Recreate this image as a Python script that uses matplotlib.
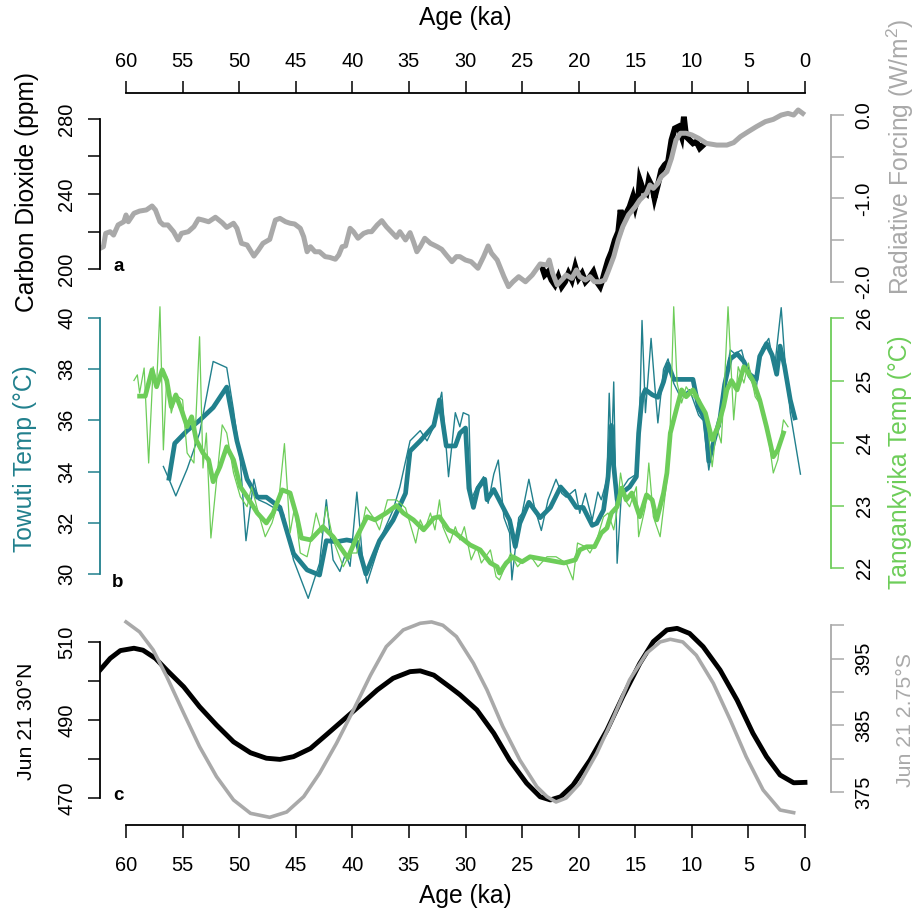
import matplotlib
matplotlib.use('Agg')
import matplotlib.pyplot as plt

plt.rcParams['font.family'] = 'Liberation Sans'
plt.rcParams['mathtext.fontset'] = 'custom'
plt.rcParams['mathtext.rm'] = 'Liberation Sans'
plt.rcParams['mathtext.it'] = 'Liberation Sans:italic'

# --- Data ---
# a: CO2 composite (grey) and high-resolution record (black)
co2_age = [62.3, 62.0, 61.8, 61.4, 61.1, 60.7, 60.2, 60.0, 59.8, 59.3, 58.8, 58.2, 57.7, 57.4, 57.0,
           56.7, 56.3, 55.8, 55.4, 55.1, 54.5, 54.0, 53.6, 53.2, 52.7, 52.1, 51.5, 51.1, 50.5, 50.2,
           49.8, 49.3, 48.7, 48.3, 47.9, 47.3, 46.8, 46.4, 45.9, 45.5, 45.1, 44.6, 44.3, 44.0, 43.7,
           43.3, 42.9, 42.4, 42.0, 41.5, 41.2, 40.9, 40.6, 40.2, 39.9, 39.5, 39.0, 38.6, 38.3, 37.8,
           37.4, 37.0, 36.5, 36.1, 35.8, 35.3, 34.9, 34.6, 34.3, 34.0, 33.6, 33.1, 32.5, 32.1, 31.7,
           31.2, 30.8, 30.5, 30.0, 29.5, 28.9, 28.4, 28.0, 27.7, 27.2, 26.6, 26.2, 25.8, 25.3, 24.7,
           24.1, 23.4, 22.8, 22.6, 22.3, 21.9, 21.5, 21.1, 20.6, 20.2, 19.9, 19.4, 19.0, 18.6, 18.1,
           17.7, 17.4, 16.9, 16.5, 16.1, 15.6, 15.0, 14.6, 14.0, 13.7, 13.4, 13.0, 12.7, 12.2, 11.8,
           11.4, 11.0, 10.5, 10.0, 9.4, 8.7, 7.8, 6.9, 6.3, 5.7, 5.0, 4.3, 3.5, 2.8, 2.1,
           1.5, 1.0, 0.6, 0.2]
co2_ppm = [211.0, 211.9, 219.0, 219.9, 218.1, 223.5, 225.2, 228.8, 225.2, 229.7, 230.9, 231.5, 233.6, 231.5, 225.2,
           223.5, 223.5, 219.9, 215.5, 219.0, 219.9, 222.6, 226.7, 226.1, 225.2, 227.6, 224.7, 222.2, 224.4, 221.7,
           213.7, 212.8, 206.9, 210.1, 213.7, 215.8, 226.1, 227.0, 225.2, 224.4, 224.0, 221.7, 217.2, 209.2, 211.9,
           209.2, 209.2, 206.6, 206.2, 205.2, 207.5, 211.9, 212.3, 221.7, 219.9, 216.4, 219.0, 219.9, 219.9, 223.5,
           225.8, 222.6, 219.4, 216.9, 219.9, 215.5, 219.4, 214.6, 209.2, 211.9, 216.4, 213.7, 211.9, 210.5, 207.5,
           203.9, 206.6, 206.6, 204.8, 203.9, 200.4, 206.6, 212.3, 208.4, 204.8, 195.9, 190.6, 193.2, 195.9, 193.2,
           196.8, 202.7, 202.1, 204.8, 197.7, 191.5, 194.1, 196.8, 195.0, 199.5, 195.9, 194.1, 195.9, 193.2, 193.2,
           194.1, 198.6, 206.6, 215.5, 222.6, 228.8, 233.2, 236.8, 240.4, 244.8, 243.0, 245.7, 249.2, 251.9, 259.0,
           268.8, 272.4, 272.4, 271.5, 269.7, 267.0, 266.1, 266.1, 267.4, 270.6, 273.3, 275.9, 278.6, 279.8, 282.1,
           283.0, 282.1, 284.8, 283.0]

co2_hr_age = [23.2, 23.0, 22.7, 22.4, 22.1, 21.8, 21.5, 21.2, 20.9, 20.6, 20.3, 20.0, 19.7, 19.4, 19.0,
              18.7, 18.4, 18.1, 17.9, 17.7, 17.4, 17.1, 16.8, 16.5, 16.3, 16.1, 15.8, 15.5, 15.2, 15.0,
              14.7, 14.6, 14.3, 14.0, 13.8, 13.5, 13.3, 13.0, 12.7, 12.4, 12.1, 11.8, 11.5, 11.2, 10.9,
              10.7, 10.5, 10.2, 9.9, 9.6, 9.3, 9.0]
co2_hr_ppm = [200.4, 196.8, 198.6, 194.1, 191.5, 195.9, 190.6, 193.2, 197.7, 194.1, 201.2, 195.0, 197.7, 193.2, 195.9,
              198.6, 193.2, 190.6, 194.1, 198.6, 204.8, 209.2, 215.5, 219.9, 231.5, 224.4, 229.7, 233.2, 238.6, 233.2,
              240.4, 247.5, 242.1, 240.4, 247.5, 243.9, 237.7, 244.8, 252.8, 255.5, 257.2, 268.8, 275.0, 275.9, 270.6,
              281.2, 270.6, 268.8, 267.0, 267.9, 264.4, 266.1]

# b: Towuti temperature, raw (thin) and smoothed (thick)
tow_raw_age = [56.7, 56.2, 55.6, 54.6, 53.5, 52.3, 51.1, 50.5, 49.9, 49.4, 48.7, 48.3, 47.6, 46.1, 45.2,
               43.9, 42.9, 42.3, 41.7, 41.1, 40.6, 40.2, 39.6, 39.1, 38.7, 37.3, 36.4, 35.8, 34.9, 34.0,
               33.4, 32.8, 32.1, 31.5, 30.9, 30.5, 30.2, 29.7, 29.5, 29.0, 28.4, 28.0, 27.5, 27.1, 26.6,
               26.1, 25.9, 25.3, 25.0, 24.4, 23.9, 23.3, 22.7, 22.0, 21.5, 21.1, 20.3, 19.9, 19.4, 18.8,
               18.3, 18.0, 17.5, 17.3, 17.1, 16.9, 16.6, 16.2, 15.6, 14.9, 14.6, 14.4, 14.1, 13.6, 13.3,
               13.0, 12.5, 12.1, 11.6, 11.0, 10.2, 9.4, 9.0, 8.5, 8.0, 7.5, 7.1, 6.6, 6.2, 5.6,
               5.0, 4.3, 3.8, 3.2, 2.7, 2.1, 1.8, 1.3, 0.4]
tow_raw = [34.2, 33.7, 33.05, 34.1, 35.5, 38.3, 38.06, 36.4, 34.45, 31.3, 33.7, 32.9, 32.76, 32.37, 30.55,
           29.05, 30.42, 32.9, 30.55, 30.1, 30.8, 30.3, 33.2, 30.6, 29.64, 31.6, 32.5, 33.4, 35.2, 35.6,
           35.2, 35.75, 37.1, 33.8, 36.3, 35.75, 36.3, 36.2, 32.9, 33.4, 33.8, 32.76, 33.9, 34.45, 32.2,
           31.6, 29.77, 32.2, 32.37, 33.7, 32.6, 31.7, 32.9, 33.7, 33.15, 33.0, 33.3, 32.37, 33.15, 32.1,
           33.2, 32.9, 33.7, 37.06, 34.6, 37.5, 30.42, 33.3, 33.7, 33.9, 36.4, 39.9, 36.3, 39.2, 37.5,
           35.9, 38.0, 38.4, 37.45, 36.9, 37.2, 36.2, 36.0, 34.06, 35.5, 35.75, 37.4, 38.75, 38.6, 38.75,
           37.7, 37.3, 38.8, 39.2, 38.0, 40.4, 38.5, 36.3, 33.9]

tow_smooth_age = [56.2, 55.7, 54.6, 53.5, 52.3, 51.1, 50.2, 49.3, 48.4, 47.6, 46.4, 45.2, 44.0, 42.9, 42.3,
                  41.4, 40.5, 39.6, 38.8, 37.6, 36.4, 35.3, 34.9, 34.0, 32.8, 32.3, 31.7, 30.9, 30.5, 30.0,
                  29.7, 29.3, 28.9, 28.3, 28.1, 27.5, 26.8, 26.1, 25.6, 25.2, 24.4, 23.4, 22.5, 21.6, 20.8,
                  20.2, 19.6, 18.8, 18.4, 17.8, 17.4, 17.1, 16.9, 16.6, 16.1, 15.5, 14.9, 14.7, 14.4, 14.1,
                  13.5, 13.0, 12.5, 12.1, 11.6, 11.0, 9.9, 9.4, 8.8, 8.5, 8.1, 7.5, 7.1, 6.6, 6.0,
                  5.4, 4.9, 4.3, 4.0, 3.4, 2.9, 2.5, 2.2, 1.8, 1.3, 0.9]
tow_smooth = [33.74, 35.1, 35.6, 36.0, 36.5, 37.3, 35.2, 33.7, 33.0, 33.0, 32.6, 30.8, 30.16, 29.96, 31.3,
              31.26, 31.33, 31.26, 30.0, 31.3, 32.1, 33.15, 34.8, 35.2, 35.8, 36.8, 35.0, 35.0, 35.5, 35.7,
              33.35, 32.6, 33.35, 33.7, 32.9, 33.3, 32.7, 32.1, 31.07, 31.98, 32.8, 32.2, 32.6, 33.4, 33.0,
              32.6, 32.6, 31.9, 31.98, 32.5, 33.8, 35.8, 34.2, 32.9, 33.2, 33.4, 33.8, 35.5, 36.9, 37.2,
              37.0, 36.9, 37.5, 38.2, 37.6, 37.6, 37.6, 36.5, 36.0, 34.4, 35.1, 36.1, 37.4, 38.4, 38.6,
              38.3, 37.8, 37.6, 38.5, 39.0, 38.55, 37.8, 38.9, 38.1, 36.8, 36.1]

# b: Tanganyika temperature, raw (thin) and smoothed (thick)
tan_raw_age = [59.3, 59.0, 58.8, 58.4, 58.0, 57.6, 57.3, 57.0, 56.7, 56.4, 56.0, 55.6, 55.0, 54.6, 54.0,
               53.5, 53.2, 52.9, 52.5, 52.0, 51.5, 51.1, 50.5, 49.9, 49.3, 48.9, 48.3, 47.7, 47.1, 46.5,
               46.0, 45.5, 45.1, 44.6, 44.0, 43.6, 43.2, 42.7, 42.3, 41.7, 40.8, 40.2, 39.6, 38.8, 38.0,
               37.6, 36.9, 36.1, 35.3, 34.4, 34.0, 33.6, 33.1, 32.7, 32.3, 32.0, 31.4, 30.9, 30.5, 30.1,
               29.5, 29.0, 28.6, 27.8, 27.3, 27.0, 26.5, 26.0, 25.4, 24.9, 24.2, 23.6, 22.8, 22.0, 21.1,
               20.5, 20.1, 19.4, 19.0, 18.4, 17.8, 17.4, 16.9, 16.6, 16.3, 15.9, 15.5, 14.9, 14.7, 14.1,
               13.8, 13.4, 12.8, 12.2, 11.9, 11.6, 11.3, 10.9, 10.5, 9.9, 9.3, 8.7, 8.2, 7.8, 7.4,
               7.1, 6.8, 6.3, 5.9, 5.4, 5.0, 4.4, 3.8, 3.2, 2.8, 2.4, 1.9, 1.5]
tan_raw = [25.0, 25.09, 24.8, 25.2, 23.68, 25.22, 24.9, 26.18, 23.89, 25.06, 24.48, 24.77, 24.69, 23.84, 23.68,
           25.7, 23.6, 24.16, 22.48, 23.4, 24.29, 24.16, 23.52, 23.14, 22.98, 23.3, 22.88, 22.5, 22.72, 23.09,
           23.99, 22.56, 22.98, 22.24, 22.18, 22.5, 22.88, 22.56, 22.98, 22.45, 22.02, 22.24, 22.24, 22.98, 22.77,
           22.61, 23.09, 23.09, 22.96, 22.4, 22.77, 22.61, 22.88, 22.61, 23.09, 22.66, 22.4, 22.66, 22.45, 22.66,
           22.13, 22.34, 22.08, 22.29, 21.86, 21.81, 22.02, 22.24, 22.02, 22.13, 22.18, 22.02, 22.18, 22.18, 22.08,
           21.81, 22.4, 22.34, 22.24, 22.45, 22.82, 22.88, 22.61, 22.93, 23.52, 23.09, 22.98, 23.3, 22.5, 22.98,
           23.68, 22.82, 22.5, 23.41, 24.32, 26.18, 24.96, 24.64, 24.9, 24.74, 24.69, 24.42, 23.62, 24.26, 24.0,
           25.0, 26.18, 24.37, 25.22, 24.96, 25.28, 24.74, 24.58, 24.05, 23.52, 23.73, 24.37, 24.26]

tan_smooth_age = [58.8, 58.3, 57.7, 57.3, 56.8, 56.4, 56.0, 55.6, 55.1, 54.6, 54.2, 53.8, 53.2, 52.7, 52.3,
                  51.7, 51.1, 50.5, 49.9, 49.3, 48.4, 47.6, 47.0, 46.2, 45.5, 44.9, 44.5, 43.7, 42.6, 41.7,
                  40.4, 39.6, 38.7, 38.0, 37.0, 36.1, 35.5, 34.6, 33.7, 32.8, 32.3, 31.5, 30.9, 30.5, 29.6,
                  28.7, 27.8, 27.2, 27.0, 26.4, 25.8, 25.0, 24.3, 22.8, 21.3, 20.3, 19.9, 19.3, 18.6, 18.0,
                  17.5, 17.1, 16.6, 16.2, 15.8, 15.3, 14.6, 14.0, 13.5, 13.1, 12.5, 12.2, 11.9, 11.3, 10.9,
                  10.5, 9.9, 9.3, 8.8, 8.2, 7.7, 7.2, 6.9, 6.5, 6.0, 5.4, 5.0, 4.6, 4.0, 3.4,
                  2.8, 2.4, 1.9]
tan_smooth = [24.75, 24.75, 25.17, 24.9, 25.17, 25.0, 24.58, 24.77, 24.53, 24.26, 24.42, 24.05, 23.84, 23.73, 23.38,
              23.62, 23.94, 23.73, 23.3, 23.14, 22.88, 22.72, 22.88, 23.25, 23.2, 22.82, 22.48, 22.45, 22.66, 22.5,
              22.16, 22.5, 22.82, 22.77, 22.88, 23.0, 22.88, 22.77, 22.61, 22.8, 22.82, 22.61, 22.56, 22.5, 22.37,
              22.29, 22.08, 22.02, 21.92, 22.08, 22.18, 22.1, 22.18, 22.13, 22.08, 22.13, 22.29, 22.34, 22.34, 22.56,
              22.64, 22.88, 22.98, 23.28, 23.09, 23.2, 22.82, 23.17, 23.09, 22.77, 23.2, 23.52, 24.16, 24.58, 24.85,
              24.74, 24.85, 24.64, 24.48, 24.05, 24.26, 24.58, 24.85, 25.0, 24.85, 25.22, 25.12, 25.0, 24.69, 24.26,
              23.78, 23.89, 24.16]

# c: June 21 insolation (W/m2)
ins30n_age = [62.3, 61.4, 60.5, 59.3, 58.5, 57.4, 56.4, 54.9, 53.5, 52.0, 50.5, 49.0, 47.6, 46.4, 45.2,
              43.7, 42.3, 40.8, 39.3, 37.8, 36.4, 34.9, 34.0, 32.8, 31.4, 30.5, 29.0, 27.5, 26.1, 24.6,
              23.4, 22.5, 21.6, 20.5, 19.0, 17.5, 16.1, 14.6, 13.4, 12.2, 11.3, 10.2, 9.0, 7.5, 6.0,
              4.6, 3.4, 2.2, 1.0, 0.0]
ins30n = [502.8, 505.8, 507.8, 508.4, 507.9, 505.8, 502.8, 498.5, 493.4, 488.7, 484.4, 481.6, 480.2, 479.9, 480.6,
          482.7, 486.2, 490.0, 493.8, 497.7, 500.7, 502.4, 502.6, 501.5, 498.5, 496.5, 492.6, 486.6, 479.7, 473.8,
          470.3, 469.5, 470.3, 473.3, 479.7, 487.4, 496.0, 504.5, 510.1, 513.1, 513.5, 512.2, 508.8, 502.8, 495.1,
          486.6, 480.6, 475.9, 473.9, 474.0]

ins3s_age = [60.0, 58.8, 57.6, 56.4, 54.9, 53.5, 52.0, 50.5, 49.0, 47.3, 45.8, 44.3, 42.9, 41.4, 39.9,
             38.4, 37.0, 35.5, 34.0, 33.0, 32.0, 30.8, 29.3, 28.1, 26.7, 25.2, 23.7, 22.8, 22.0, 21.1,
             19.9, 18.4, 16.9, 15.5, 14.0, 12.8, 11.9, 10.8, 9.6, 8.1, 6.6, 5.2, 3.7, 2.2, 1.0]
ins3s = [400.5, 399.0, 396.3, 392.3, 386.8, 381.8, 377.3, 373.8, 371.8, 371.2, 372.0, 374.3, 377.8, 382.3, 387.3,
         392.5, 396.8, 399.3, 400.3, 400.5, 400.0, 398.3, 394.3, 390.3, 384.8, 379.8, 375.8, 374.3, 373.5, 374.1,
         376.3, 380.8, 386.3, 391.8, 395.8, 397.5, 397.9, 397.5, 395.5, 391.3, 385.8, 380.3, 375.3, 372.3, 371.9]

age_ticks = list(range(0, 61, 5))

# --- Styling ---
GRAY = '#a9a9a9'
TEAL = '#21808d'
GREEN = '#6dcd59'
TICK_FS = 14.4
LAB_FS = 17.7
W, H = 922, 915
XLIM = (62.3, -2.3)

fig = plt.figure(figsize=(W / 100, H / 100), dpi=100)


def px_axes(left, top, right, bottom):
    ax = fig.add_axes([left / W, 1 - bottom / H, (right - left) / W, (bottom - top) / H])
    ax.set_xlim(*XLIM)
    ax.patch.set_visible(False)
    return ax


def style_y(ax, side, ticks, labels, color):
    # R-like axis: the line only runs from first to last tick
    for s in ax.spines.values():
        s.set_visible(False)
    sp = ax.spines[side]
    sp.set_visible(True)
    sp.set_bounds(ticks[0], ticks[-1])
    sp.set_color(color)
    sp.set_linewidth(1.3)
    ax.set_xticks([])
    if side == 'left':
        ax.yaxis.tick_left()
    else:
        ax.yaxis.tick_right()
    ax.set_yticks(ticks)
    ax.set_yticklabels(labels, rotation=90, va='center', fontsize=TICK_FS)
    ax.tick_params(axis='y', length=9, width=1.1, color=color, pad=8)


# --- Panel a: CO2 ---
ax_a = px_axes(100, 100, 831, 300)
ax_a.set_ylim(183.47, 290.13)
ax_a.plot(co2_hr_age, co2_hr_ppm, color='black', lw=4.2, solid_joinstyle='miter')
ax_a.plot(co2_age, co2_ppm, color=GRAY, lw=3.6)
style_y(ax_a, 'left', [200, 220, 240, 260, 280], ['200', '', '240', '', '280'], 'black')

ax_a2 = ax_a.twinx()
ax_a2.set_ylim(-2.2156, 0.1796)
ax_a2.patch.set_visible(False)
style_y(ax_a2, 'right', [-2.0, -1.5, -1.0, -0.5, 0.0], ['-2.0', '', '-1.0', '', '0.0'], GRAY)

# --- Panel b: lake temperatures ---
ax_b = px_axes(100, 300, 831, 605)
ax_b.set_ylim(28.79, 40.70)
ax_b.plot(tow_raw_age, tow_raw, color=TEAL, lw=1.0)
ax_b.plot(tow_smooth_age, tow_smooth, color=TEAL, lw=3.4)
style_y(ax_b, 'left', [30, 32, 34, 36, 38, 40], ['30', '32', '34', '36', '38', '40'], TEAL)

ax_b2 = ax_b.twinx()
ax_b2.set_ylim(21.408, 26.288)
ax_b2.patch.set_visible(False)
ax_b2.plot(tan_raw_age, tan_raw, color=GREEN, lw=0.9)
ax_b2.plot(tan_smooth_age, tan_smooth, color=GREEN, lw=3.4)
style_y(ax_b2, 'right', [22, 23, 24, 25, 26], ['22', '23', '24', '25', '26'], GREEN)

# --- Panel c: insolation ---
ax_c = px_axes(100, 605, 831, 830)
ax_c.set_ylim(461.79, 519.49)
ax_c.plot(ins30n_age, ins30n, color='black', lw=3.5)
style_y(ax_c, 'left', [470, 480, 490, 500, 510], ['470', '', '490', '', '510'], 'black')

ax_c2 = ax_c.twinx()
ax_c2.set_ylim(369.30, 403.04)
ax_c2.patch.set_visible(False)
ax_c2.plot(ins3s_age, ins3s, color=GRAY, lw=2.6)
style_y(ax_c2, 'right', [375, 380, 385, 390, 395, 400], ['375', '', '385', '', '395', ''], GRAY)

# --- Age axes, top (line at y=93 px) and bottom (line at y=825 px) ---
ax_top = px_axes(100, 93, 831, 110)
ax_bot = px_axes(100, 805, 831, 825)
for ax, side in [(ax_top, 'top'), (ax_bot, 'bottom')]:
    for s in ax.spines.values():
        s.set_visible(False)
    ax.spines[side].set_visible(True)
    ax.spines[side].set_bounds(60, 0)
    ax.spines[side].set_linewidth(1.3)
    ax.set_yticks([])
    ax.set_xticks(age_ticks)
    ax.set_xticklabels([str(t) for t in age_ticks], fontsize=TICK_FS)
ax_top.xaxis.tick_top()
ax_top.tick_params(axis='x', length=9, width=1.1, pad=7)
ax_bot.tick_params(axis='x', length=9, width=1.1, pad=13)

# --- Axis titles and panel letters ---
def ftext(x, y, s, **kw):
    fig.text(x / W, 1 - y / H, s, ha='center', va='center', **kw)

ftext(465, 18, 'Age (ka)', fontsize=LAB_FS)
ftext(465, 896, 'Age (ka)', fontsize=LAB_FS)
ftext(27, 192, 'Carbon Dioxide (ppm)', fontsize=LAB_FS, rotation=90)
ftext(900, 157, 'Radiative Forcing (W/m$^2$)', fontsize=LAB_FS, rotation=90, color=GRAY)
ftext(25, 459, 'Towuti Temp (°C)', fontsize=LAB_FS, rotation=90, color=TEAL)
ftext(900, 462, 'Tangankyika Temp (°C)', fontsize=LAB_FS, rotation=90, color=GREEN)
ftext(26, 721, 'Jun 21 30°N', fontsize=15.3, rotation=90)
ftext(905, 720, 'Jun 21 2.75°S', fontsize=15.3, rotation=90, color=GRAY)

for x, y, s in [(113, 271, 'a'), (112, 587, 'b'), (113, 800, 'c')]:
    fig.text(x / W, 1 - y / H, s, ha='left', va='baseline', fontsize=13.5, fontweight='bold')

fig.savefig('out.png', dpi=100)
